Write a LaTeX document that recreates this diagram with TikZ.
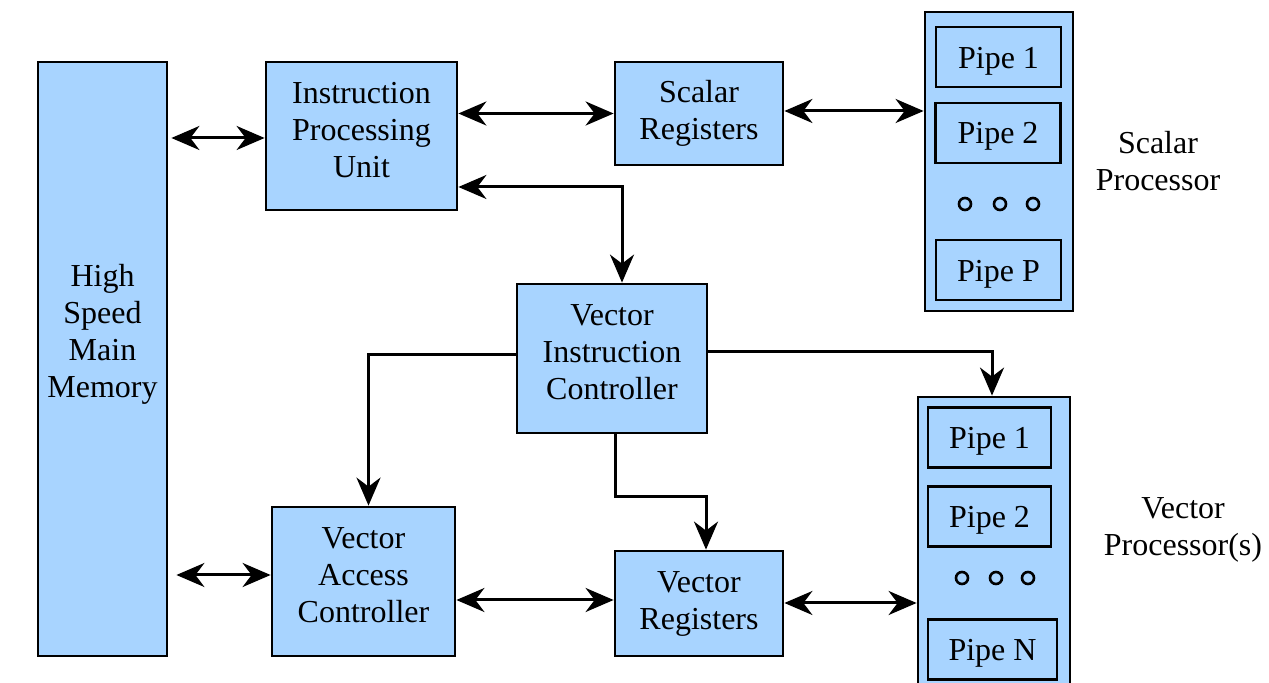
\documentclass[tikz,border=0pt]{standalone}
\usepackage{fontspec}
\setmainfont{Liberation Serif}
\usepackage{tikz}
\usetikzlibrary{arrows.meta,calc}

\definecolor{boxblue}{RGB}{168,212,255}

% raise a centred stack of lines inside a box
\newcommand{\lift}[2]{\raisebox{#1}[\height][\depth]{\begin{tabular}{@{}c@{}}#2\end{tabular}}}

\begin{document}
\begin{tikzpicture}[x=0.5pt, y={(0pt,-0.5pt)}, line width=1.5pt,
    font=\fontsize{16}{18.5}\selectfont,
    unit/.style={rectangle, draw=black, fill=boxblue, line width=1.4pt, inner sep=0pt, align=center},
    pipe/.style={unit, minimum width=62.5pt, minimum height=30pt},
    dot/.style={circle, draw=black, line width=1.3pt, minimum size=6pt, inner sep=0pt},
    link/.style={-{Stealth[length=14pt,width=12pt,inset=4.5pt]}},
    biglink/.style={{Stealth[length=14pt,width=12pt,inset=4.5pt]}-{Stealth[length=14pt,width=12pt,inset=4.5pt]}}]

    \useasboundingbox (0,0) rectangle (1269,683);

    % Memory and scalar side
    \node[unit, minimum width=64.5pt, minimum height=297pt] (mem) at (102.5,359) {\lift{12pt}{High\\Speed\\Main\\Memory}};
    \node[unit, minimum width=95.5pt, minimum height=74pt] (ipu) at (361.5,136) {\lift{1.5pt}{Instruction\\Processing\\Unit}};
    \node[unit, minimum width=84pt, minimum height=51.5pt] (sreg) at (699,113.5) {Scalar\\Registers};
    \node[unit, minimum width=74pt, minimum height=149.5pt] (sproc) at (999,161.5) {};
    \node[pipe] (sp1) at (998.5,57) {\lift{-2pt}{Pipe 1}};
    \node[pipe] (sp2) at (998,133) {\lift{-1.5pt}{Pipe 2}};
    \node[pipe] (spP) at (998.5,270) {\lift{-2pt}{Pipe P}};
    \foreach \i/\x in {1/965,2/1000,3/1033}
        \node[dot] (sdot\i) at (\x,204) {};
    \node[align=center] (slabel) at (1158,161) {Scalar\\Processor};

    % Vector side
    \node[unit, minimum width=95pt, minimum height=74.5pt] (vic) at (612,358.5) {\lift{1.5pt}{Vector\\Instruction\\Controller}};
    \node[unit, minimum width=91.5pt, minimum height=74.5pt] (vac) at (363.5,581.5) {\lift{1.5pt}{Vector\\Access\\Controller}};
    \node[unit, minimum width=84pt, minimum height=52.5pt] (vreg) at (699,603.5) {Vector\\Registers};
    \node[unit, minimum width=76pt, minimum height=155pt] (vproc) at (994,552) {};
    \node[pipe, minimum width=61.5pt] (vp1) at (989.5,437.5) {\lift{-2pt}{Pipe 1}};
    \node[pipe, minimum width=61.5pt] (vp2) at (989.5,516.5) {\lift{-2pt}{Pipe 2}};
    \node[pipe, minimum width=64.5pt] (vpN) at (992.5,649.5) {\lift{-2pt}{Pipe N}};
    \foreach \i/\x in {1/962,2/996,3/1028}
        \node[dot] (vdot\i) at (\x,578) {};
    \node[align=center] (vlabel) at (1183,530) {Vector\\Processor(s)};

    % Data paths
    \draw[biglink] ([xshift=1.5pt]mem.east |- 0,138) -- (ipu.west |- 0,138);
    \draw[biglink] (ipu.east |- sreg) -- (sreg.west);
    \draw[biglink] (sreg.east |- 0,111) -- (sproc.west |- 0,111);
    \draw[biglink] ([xshift=4pt]mem.east |- 0,575) -- (vac.west |- 0,575);
    \draw[biglink] (vac.east |- 0,600) -- (vreg.west |- 0,600);
    \draw[biglink] (vreg.east |- 0,603) -- (vproc.west |- 0,603);

    % Control paths
    \draw[biglink] (ipu.east |- 0,187) -| ([xshift=5pt]vic.north);
    \draw[link] (vic.west |- 0,355) -| ([xshift=2.5pt]vac.north);
    \draw[link] (vic.east |- 0,352) -| (vproc.north -| 992,0);
    \draw[link] ([xshift=1.5pt]vic.south) -- ++(0,62) -| ([xshift=3.5pt]vreg.north);
\end{tikzpicture}
\end{document}
